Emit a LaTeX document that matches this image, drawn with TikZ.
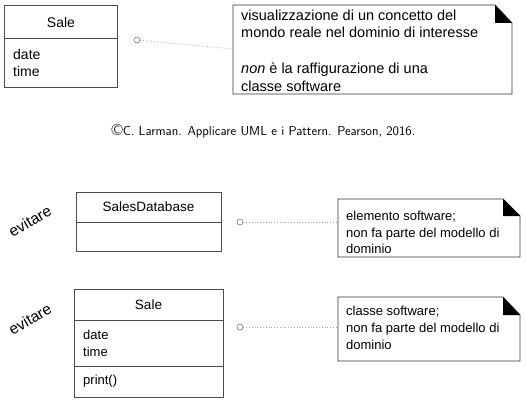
\documentclass[tikz,border=0pt]{standalone}
\usepackage{fontspec}
\newfontfamily\arial{Liberation Sans}
\begin{document}
\begin{tikzpicture}[x=1pt,y=-1pt,
  boxline/.style={draw=black!70, line width=0.9pt},
  classbox/.style={boxline, rectangle, inner sep=0pt, anchor=north west},
  txt/.style={inner sep=0pt, font=\arial\fontsize{14}{17}\selectfont, text=black},
  smalltxt/.style={inner sep=0pt, font=\arial\fontsize{13}{16.8}\selectfont, text=black, align=left, anchor=west},
  notetxt/.style={inner sep=0pt, font=\arial\fontsize{14.5}{17.7}\selectfont, text=black, align=left, anchor=west},
  noteline/.style={draw=black!80, line width=0.9pt, fill=white},
  fold/.style={fill=black},
  knob/.style={circle, draw=black!55, fill=white, line width=0.6pt, minimum size=6pt, inner sep=0pt},
  link/.style={draw=black!35, dotted, line width=0.8pt},
  avoid/.style={inner sep=0pt, font=\arial\fontsize{15.5}{18}\selectfont, rotate=30},
]
\useasboundingbox (0,0) rectangle (526,401);

% ---------- top: Sale concept ----------
\node[classbox, minimum width=113pt, minimum height=82pt] (saleA) at (4,5) {};
\draw[boxline] (4,38) -- (117,38);
\node[txt] (saleAname) at (61,22) {Sale};
\node[smalltxt, font=\arial\fontsize{14}{17}\selectfont] (saleAattr) at (13,62.5) {date\\time};

\path[noteline] (233,5) -- (495,5) -- (512,23) -- (512,94) -- (233,94) -- cycle;
\fill[fold] (495,5) -- (512,23) -- (495,23) -- cycle;
\node[inner sep=0pt, minimum width=279pt, minimum height=89pt, anchor=north west] (noteA) at (233,5) {};
\node[notetxt] (noteAtext) at (241,50.5) {visualizzazione di un concetto del\\mondo reale nel dominio di interesse\\\mbox{}\\\textit{non} è la raffigurazione di una\\classe software};

\node[knob] (knobA) at (137,40) {};
\draw[link] (knobA) -- (noteA.west |- 0,49);

% ---------- caption ----------
\node[inner sep=0pt, font=\sffamily\fontsize{13}{15}\selectfont] (cap) at (263.5,131) {{\fontsize{16}{16}\selectfont\textcopyright}C. Larman. Applicare UML e i Pattern. Pearson, 2016.};

% ---------- SalesDatabase ----------
\node[avoid] (avoidB) at (30,221) {evitare};
\node[classbox, minimum width=145pt, minimum height=59pt] (db) at (76,192) {};
\draw[boxline] (76,222) -- (221,222);
\node[txt, font=\arial\fontsize{13.5}{16}\selectfont] (dbname) at (148.5,207) {SalesDatabase};

\path[noteline] (338,199) -- (503,199) -- (520,216) -- (520,257) -- (338,257) -- cycle;
\fill[fold] (503,199) -- (520,216) -- (503,216) -- cycle;
\node[inner sep=0pt, minimum width=182pt, minimum height=58pt, anchor=north west] (noteB) at (338,199) {};
\node[smalltxt] (noteBtext) at (346,232.5) {elemento software;\\non fa parte del modello di\\dominio};

\node[knob] (knobB) at (240,222) {};
\draw[link] (knobB) -- (noteB.west |- 0,222);

% ---------- software Sale ----------
\node[avoid] (avoidC) at (30,319) {evitare};
\node[classbox, minimum width=149pt, minimum height=108pt] (saleC) at (74,289) {};
\draw[boxline] (74,320) -- (223,320);
\draw[boxline] (74,366) -- (223,366);
\node[txt, font=\arial\fontsize{13.5}{16}\selectfont] (saleCname) at (148.5,305) {Sale};
\node[smalltxt] (saleCattr) at (83,343.5) {date\\time};
\node[smalltxt] (saleCop) at (83,381) {print()};

\path[noteline] (338,297) -- (503,297) -- (520,315) -- (520,361) -- (338,361) -- cycle;
\fill[fold] (503,297) -- (520,315) -- (503,315) -- cycle;
\node[inner sep=0pt, minimum width=182pt, minimum height=64pt, anchor=north west] (noteC) at (338,297) {};
\node[smalltxt] (noteCtext) at (346,328) {classe software;\\non fa parte del modello di\\dominio};

\node[knob] (knobC) at (240,327) {};
\draw[link] (knobC) -- (noteC.west |- 0,327);
\end{tikzpicture}
\end{document}
